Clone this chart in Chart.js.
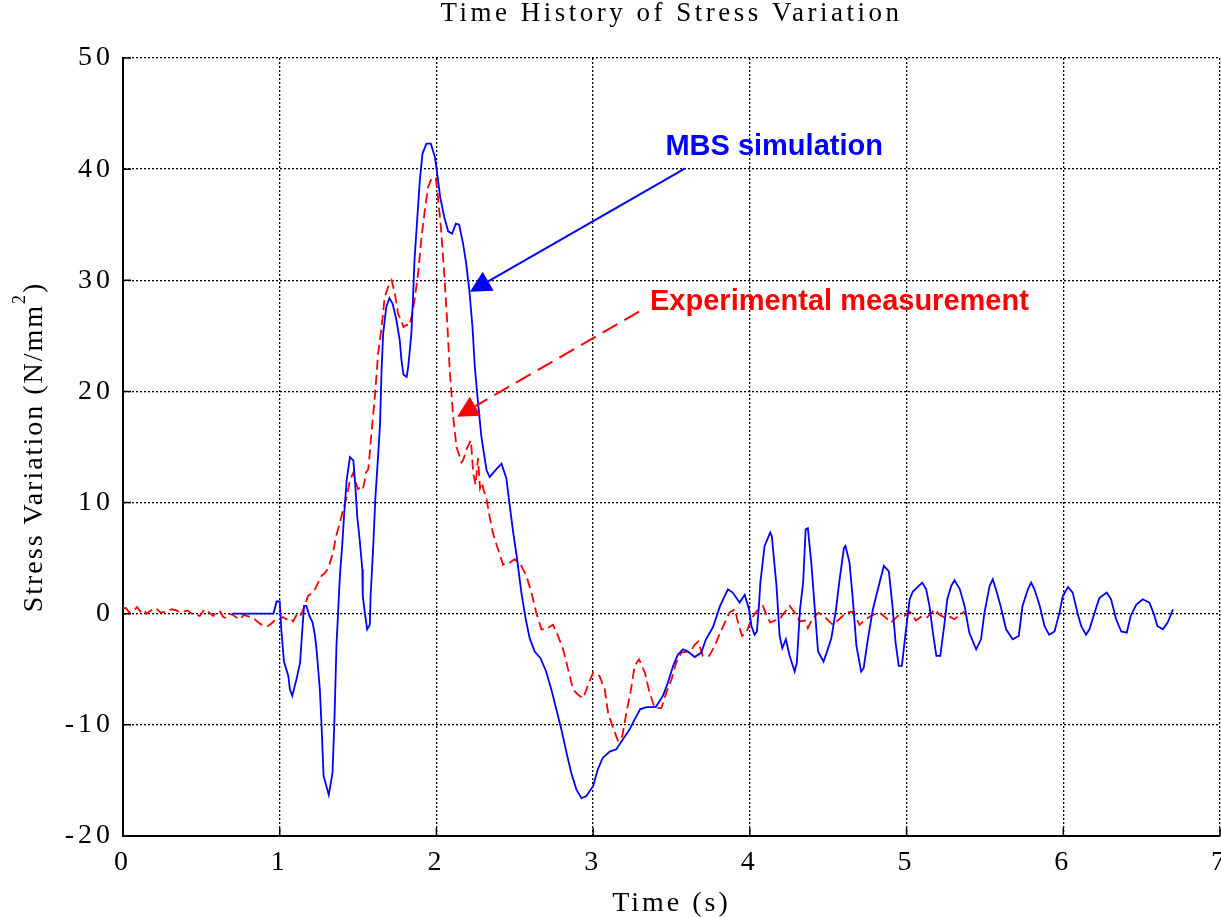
<!DOCTYPE html>
<html>
<head>
<meta charset="utf-8">
<title>Time History of Stress Variation</title>
<script src="https://cdn.jsdelivr.net/npm/chart.js@4.4.1/dist/chart.umd.min.js"></script>
<style>
  html, body { margin: 0; padding: 0; background: #fff; }
  #wrap { width: 1221px; height: 917px; }
</style>
</head>
<body>
<div id="wrap"><canvas id="stressChart" width="1221" height="917"></canvas></div>
<script>
// values (time in s, stress in N/mm2)
const simTime = [
  0.70, 0.96, 0.98, 1.00, 1.01, 1.027, 1.055, 1.065, 1.08, 1.107, 1.13, 1.14, 1.155, 1.17, 1.19, 1.21,
  1.225, 1.235, 1.256, 1.267, 1.28, 1.313, 1.337, 1.35, 1.362, 1.384, 1.40, 1.41, 1.427, 1.448, 1.47,
  1.48, 1.495, 1.51, 1.527, 1.53, 1.543, 1.558, 1.575, 1.58, 1.597, 1.61, 1.63, 1.64, 1.65, 1.66, 1.68,
  1.70, 1.72, 1.745, 1.766, 1.777, 1.79, 1.81, 1.82, 1.84, 1.85, 1.86, 1.877, 1.894, 1.911, 1.936, 1.964,
  1.99, 2.005, 2.025, 2.05, 2.075, 2.10, 2.124, 2.145, 2.17, 2.19, 2.21, 2.23, 2.245, 2.266, 2.287, 2.31,
  2.32, 2.34, 2.37, 2.415, 2.446, 2.468, 2.49, 2.515, 2.542, 2.57, 2.595, 2.627, 2.664, 2.70, 2.733, 2.765,
  2.797, 2.83, 2.86, 2.893, 2.925, 2.957, 3.0, 3.03, 3.06, 3.105, 3.148, 3.19, 3.233, 3.265, 3.30, 3.34,
  3.40, 3.445, 3.477, 3.51, 3.54, 3.573, 3.605, 3.648, 3.69, 3.72, 3.765, 3.81, 3.86, 3.89, 3.935, 3.967,
  3.995, 4.01, 4.03, 4.045, 4.058, 4.067, 4.094, 4.13, 4.14, 4.17, 4.19, 4.207, 4.23, 4.254, 4.286, 4.30,
  4.32, 4.34, 4.356, 4.37, 4.392, 4.413, 4.435, 4.47, 4.49, 4.52, 4.55, 4.57, 4.60, 4.61, 4.636, 4.657,
  4.68, 4.71, 4.726, 4.753, 4.785, 4.817, 4.855, 4.887, 4.91, 4.93, 4.95, 4.97, 4.994, 5.02, 5.04, 5.10,
  5.125, 5.146, 5.168, 5.19, 5.215, 5.24, 5.26, 5.285, 5.306, 5.34, 5.37, 5.40, 5.444, 5.475, 5.497, 5.53,
  5.55, 5.57, 5.60, 5.635, 5.677, 5.716, 5.74, 5.774, 5.795, 5.816, 5.85, 5.88, 5.91, 5.944, 5.976, 5.997,
  6.03, 6.06, 6.09, 6.114, 6.145, 6.167, 6.20, 6.23, 6.277, 6.305, 6.337, 6.37, 6.405, 6.43, 6.465, 6.507,
  6.55, 6.58, 6.60, 6.635, 6.666, 6.70
];
const simStress = [
  0, 0, 1.1, 1.1, -1.4, -4.3, -5.6, -6.8, -7.4, -5.9, -4.4, -2.3, 0.7, 0.7, -0.2, -0.8,
  -2.0, -3.2, -6.8, -10.1, -14.6, -16.3, -14.3, -9.2, -2.9, 3.4, 6.4, 8.7, 12.0, 14.1, 13.8,
  12.0, 8.7, 6.7, 4.0, 1.6, 0.1, -1.4, -1.0, 1.6, 6.1, 10.3, 14.7, 17.0, 21.9, 25.2, 27.6,
  28.4, 27.9, 26.4, 24.6, 22.8, 21.5, 21.3, 22.2, 25.2, 28.2, 31.8, 35.4, 39.0, 41.4, 42.3, 42.3,
  41.1, 39.6, 37.4, 35.7, 34.4, 34.2, 35.1, 35.0, 33.3, 31.5, 29.1, 25.8, 22.2, 18.9, 15.9, 13.8,
  12.9, 12.3, 12.8, 13.5, 12.2, 9.7, 7.3, 4.9, 1.9, -0.5, -2.2, -3.4, -4.0, -5.2, -6.8, -8.6,
  -10.4, -12.5, -14.3, -15.8, -16.6, -16.4, -15.5, -14.0, -13.0, -12.4, -12.2, -11.3, -10.4, -9.5, -8.6, -8.4,
  -8.4, -7.4, -6.2, -4.7, -3.7, -3.2, -3.4, -3.9, -3.5, -2.3, -1.2, 0.7, 2.2, 1.9, 1.0, 1.7,
  0.4, -1.1, -1.9, -1.6, 0.7, 2.8, 6.1, 7.3, 7.0, 2.5, -2.0, -3.1, -2.3, -3.8, -5.2, -4.4,
  0.4, 2.8, 7.6, 7.7, 4.6, 0.7, -3.4, -4.3, -3.5, -2.2, 0.4, 2.8, 5.9, 6.1, 4.6, 1.3,
  -2.9, -5.2, -4.9, -2.3, 0.4, 2.2, 4.3, 3.8, 0.7, -2.6, -4.7, -4.7, -1.7, 1.3, 2.0, 2.8,
  2.2, 0.7, -1.7, -3.8, -3.8, -1.1, 1.3, 2.5, 3.0, 2.2, 0.7, -1.7, -3.2, -2.3, 0.1, 2.5,
  3.1, 2.2, 0.7, -1.4, -2.3, -2.0, 0.7, 2.2, 2.8, 2.2, 0.7, -1.1, -1.9, -1.6, 0.1, 1.6,
  2.4, 1.9, 0.1, -1.1, -1.9, -1.4, 0.1, 1.4, 1.9, 1.3, -0.5, -1.6, -1.7, -0.2, 0.8, 1.3,
  1.0, -0.1, -1.1, -1.4, -0.8, 0.4
];
const expTime = [
  0.0, 0.02, 0.04, 0.07, 0.09, 0.11, 0.13, 0.15, 0.18, 0.21, 0.24, 0.28, 0.31, 0.34, 0.37, 0.41,
  0.44, 0.47, 0.49, 0.52, 0.55, 0.576, 0.60, 0.62, 0.64, 0.66, 0.68, 0.70, 0.72, 0.746, 0.77, 0.79,
  0.81, 0.84, 0.865, 0.885, 0.905, 0.927, 0.945, 0.96, 0.98, 1.00, 1.02, 1.043, 1.065, 1.086, 1.10, 1.117,
  1.135, 1.15, 1.165, 1.18, 1.20, 1.225, 1.245, 1.267, 1.29, 1.31, 1.325, 1.34, 1.36, 1.384, 1.405, 1.427,
  1.448, 1.457, 1.47, 1.485, 1.50, 1.515, 1.53, 1.543, 1.55, 1.565, 1.575, 1.585, 1.607, 1.628, 1.65, 1.67,
  1.692, 1.714, 1.735, 1.755, 1.777, 1.79, 1.81, 1.825, 1.84, 1.86, 1.883, 1.905, 1.926, 1.947, 1.97, 1.996,
  2.01, 2.03, 2.05, 2.068, 2.085, 2.107, 2.128, 2.15, 2.16, 2.17, 2.19, 2.205, 2.22, 2.235, 2.25, 2.265,
  2.278, 2.29, 2.30, 2.32, 2.34, 2.36, 2.393, 2.425, 2.445, 2.468, 2.50, 2.52, 2.542, 2.574, 2.606, 2.637,
  2.67, 2.70, 2.72, 2.744, 2.776, 2.808, 2.84, 2.872, 2.904, 2.936, 2.968, 3.0, 3.02, 3.04, 3.074, 3.095,
  3.128, 3.16, 3.186, 3.212, 3.238, 3.265, 3.293, 3.33, 3.36, 3.393, 3.435, 3.467, 3.50, 3.53, 3.563, 3.605,
  3.63, 3.648, 3.67, 3.70, 3.74, 3.776, 3.81, 3.84, 3.87, 3.904, 3.925, 3.95, 3.98, 4.01, 4.04, 4.083,
  4.105, 4.13, 4.16, 4.19, 4.22, 4.254, 4.286, 4.32, 4.35, 4.37, 4.40, 4.44, 4.485, 4.53, 4.57, 4.615,
  4.66, 4.70, 4.74, 4.785, 4.83, 4.87, 4.90, 4.944, 4.986, 5.02, 5.06, 5.09, 5.125, 5.155, 5.18, 5.21,
  5.25, 5.28, 5.306, 5.34, 5.37
];
const expStress = [
  0.5, 0.5, 0.1, 0.3, 0.6, 0.2, 0.4, 0.0, 0.3, 0.5, 0.1, 0.2, 0.4, 0.3, 0.1, 0.3,
  0.0, -0.1, -0.2, 0.4, 0.1, -0.2, 0.2, 0.2, -0.3, -0.4, 0.0, -0.1, -0.3, -0.5, -0.1, -0.2,
  -0.3, -0.5, -0.8, -1.0, -1.1, -1.1, -0.9, -0.7, -0.4, -0.5, -0.3, -0.5, -0.4, -0.7, -0.3, 0.1,
  -0.1, 0.4, 0.9, 1.6, 1.8, 2.2, 2.8, 3.4, 3.7, 4.1, 4.8, 5.5, 7.0, 8.2, 9.4, 10.5,
  12.0, 12.3, 12.7, 11.8, 11.2, 11.4, 11.2, 12.0, 12.7, 13.0, 14.5, 16.2, 19.5, 23.4, 25.8, 28.5,
  29.4, 30.0, 28.8, 27.0, 26.3, 25.8, 26.0, 25.9, 26.6, 28.2, 30.6, 33.9, 36.3, 38.4, 39.2, 39.2,
  37.5, 34.5, 30.6, 26.4, 21.9, 17.7, 15.0, 14.1, 13.6, 13.8, 14.7, 15.2, 15.6, 12.6, 11.6, 14.0,
  11.3, 11.8, 11.2, 10.3, 8.7, 7.3, 5.8, 4.4, 4.6, 4.6, 4.9, 4.6, 4.3, 3.4, 1.9, 0.1,
  -1.4, -1.4, -1.2, -1.0, -2.0, -3.2, -5.0, -6.8, -7.3, -7.6, -6.4, -5.3, -5.4, -5.6, -6.8, -8.9,
  -10.3, -11.5, -11.0, -8.9, -7.1, -4.7, -4.1, -5.3, -7.1, -8.5, -8.5, -7.1, -5.9, -4.4, -3.5, -3.4,
  -3.2, -2.8, -2.5, -3.8, -3.8, -2.9, -1.7, -0.8, 0.1, 0.4, -0.8, -2.0, -1.6, -0.5, 0.2, 0.7,
  -0.1, -0.8, -0.6, -0.5, 0.1, 0.7, 0.1, -0.7, -0.6, -1.3, -0.4, 0.1, -0.4, -1.0, -0.5, 0.1,
  0.2, -1.0, -0.5, -0.1, 0.1, -0.4, -0.8, -0.2, -0.2, 0.2, -0.6, -0.3, -0.4, 0.0, 0.4, -0.1,
  -0.4, -0.3, -0.5, -0.1, 0.2
];
const xTicks = [0, 1, 2, 3, 4, 5, 6, 7];
const yTicks = [-20, -10, 0, 10, 20, 30, 40, 50];

const SERIF = '"Liberation Serif", "Times New Roman", serif';
const SANS = '"Liberation Sans", Arial, sans-serif';

function toPoints(xs, ys) {
    return xs.map((x, i) => ({ x: x, y: ys[i] }));
}

// arrow with filled triangular head, ending at (x2, y2)
function drawArrow(ctx, x1, y1, x2, y2, color, dash) {
    const ang = Math.atan2(y2 - y1, x2 - x1);
    const len = 21, half = 11;
    const bx = x2 - len * Math.cos(ang), by = y2 - len * Math.sin(ang);
    ctx.strokeStyle = color;
    ctx.lineWidth = 2;
    ctx.setLineDash(dash);
    ctx.beginPath();
    ctx.moveTo(x1, y1);
    ctx.lineTo(bx, by);
    ctx.stroke();
    ctx.setLineDash([]);
    ctx.fillStyle = color;
    ctx.beginPath();
    ctx.moveTo(x2, y2);
    ctx.lineTo(bx + half * Math.sin(ang), by - half * Math.cos(ang));
    ctx.lineTo(bx - half * Math.sin(ang), by + half * Math.cos(ang));
    ctx.closePath();
    ctx.fill();
}

const decorations = {
    id: 'decorations',
    beforeDraw(chart) {
        // the old plot font is spaced out, ticks included
        chart.ctx.letterSpacing = '4px';
    },
    afterDraw(chart) {
        const ctx = chart.ctx;
        const { left, right, top, bottom } = chart.chartArea;
        const xs = chart.scales.x, ys = chart.scales.y;
        ctx.save();

        // inward tick marks
        ctx.strokeStyle = '#000';
        ctx.lineWidth = 1.5;
        ctx.beginPath();
        xTicks.forEach(v => {
            const px = xs.getPixelForValue(v);
            ctx.moveTo(px, bottom);
            ctx.lineTo(px, bottom - 8);
        });
        yTicks.forEach(v => {
            const py = ys.getPixelForValue(v);
            ctx.moveTo(left, py);
            ctx.lineTo(left + 8, py);
        });
        ctx.stroke();

        // titles
        ctx.fillStyle = '#000';
        ctx.textBaseline = 'alphabetic';
        ctx.textAlign = 'center';
        ctx.letterSpacing = '3.5px';
        ctx.font = '27px ' + SERIF;
        ctx.fillText('Time History of Stress Variation', (left + right) / 2, 21);
        ctx.letterSpacing = '3px';
        ctx.font = '28px ' + SERIF;
        ctx.fillText('Time (s)', (left + right) / 2, 911);

        // y title with superscript
        ctx.save();
        ctx.translate(42, (top + bottom) / 2);
        ctx.rotate(-Math.PI / 2);
        ctx.textAlign = 'left';
        ctx.letterSpacing = '2px';
        const main = 'Stress Variation (N/mm';
        ctx.font = '28px ' + SERIF;
        const wMain = ctx.measureText(main).width;
        const wEnd = ctx.measureText(')').width;
        ctx.font = '18px ' + SERIF;
        const wSup = ctx.measureText('2').width;
        const x0 = -(wMain + wSup + wEnd) / 2;
        ctx.font = '28px ' + SERIF;
        ctx.fillText(main, x0, 0);
        ctx.fillText(')', x0 + wMain + wSup, 0);
        ctx.font = '18px ' + SERIF;
        ctx.fillText('2', x0 + wMain, -17);
        ctx.restore();

        // annotations
        ctx.letterSpacing = '0px';
        drawArrow(ctx, xs.getPixelForValue(3.587), ys.getPixelForValue(40.07),
            xs.getPixelForValue(2.214), ys.getPixelForValue(28.97), '#0000ff', []);
        drawArrow(ctx, xs.getPixelForValue(3.293), ys.getPixelForValue(27.17),
            xs.getPixelForValue(2.132), ys.getPixelForValue(17.73), '#ff0000', [17, 8]);
        ctx.font = 'bold 29px ' + SANS;
        ctx.fillStyle = '#0000ff';
        ctx.textAlign = 'center';
        ctx.fillText('MBS simulation', xs.getPixelForValue(4.155), ys.getPixelForValue(41.27));
        ctx.fillStyle = '#ff0000';
        ctx.textAlign = 'left';
        ctx.fillText('Experimental measurement', xs.getPixelForValue(3.363), ys.getPixelForValue(27.33));

        ctx.restore();
    }
};

const tickFont = { family: SERIF, size: 28 };

new Chart(document.getElementById('stressChart'), {
    type: 'line',
    data: {
        datasets: [
            {
                label: 'MBS simulation',
                data: toPoints(simTime, simStress),
                borderColor: '#0000ff',
                borderWidth: 1.8,
                pointRadius: 0,
                tension: 0,
                fill: false
            },
            {
                label: 'Experimental measurement',
                data: toPoints(expTime, expStress),
                borderColor: '#ff0000',
                borderWidth: 1.8,
                borderDash: [10, 5],
                pointRadius: 0,
                tension: 0,
                fill: false
            }
        ]
    },
    options: {
        responsive: false,
        animation: false,
        devicePixelRatio: 1,
        layout: { padding: { top: 58, right: 1, bottom: 0, left: 0 } },
        scales: {
            x: {
                type: 'linear',
                min: 0,
                max: 7,
                afterBuildTicks: s => { s.ticks = xTicks.map(v => ({ value: v })); },
                afterFit: s => { s.height = 81; s.paddingLeft = 0; s.paddingRight = 0; },
                grid: { color: '#000', lineWidth: 1.3, drawTicks: false },
                border: { display: true, color: '#000', width: 2, dash: [2, 2] },
                ticks: { color: '#000', font: tickFont, padding: 10, maxRotation: 0, autoSkip: false }
            },
            y: {
                type: 'linear',
                min: -20,
                max: 50,
                afterBuildTicks: s => { s.ticks = yTicks.map(v => ({ value: v })); },
                afterFit: s => { s.width = 123; s.paddingTop = 0; s.paddingBottom = 0; },
                grid: { color: '#000', lineWidth: 1.3, drawTicks: false },
                border: { display: true, color: '#000', width: 2, dash: [2, 2] },
                ticks: { color: '#000', font: tickFont, padding: 9, autoSkip: false }
            }
        },
        plugins: {
            legend: { display: false },
            tooltip: { enabled: false }
        }
    },
    plugins: [decorations]
});
</script>
</body>
</html>
